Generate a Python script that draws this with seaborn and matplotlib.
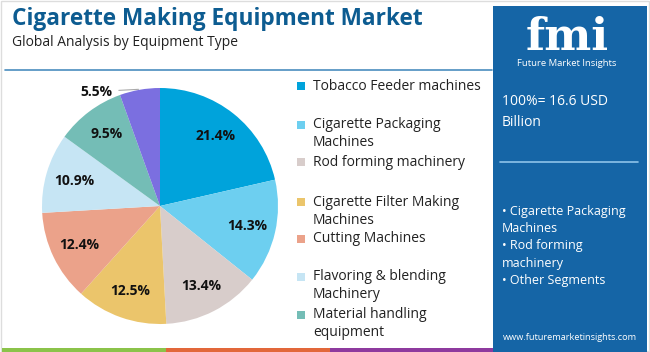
import matplotlib.pyplot as plt
import numpy as np
import seaborn as sns
from matplotlib.patches import Rectangle

# data
segments = ['Tobacco Feeder machines', 'Cigarette Packaging\nMachines', 'Rod forming machinery',
            'Cigarette Filter Making\nMachines', 'Cutting Machines', 'Flavoring & blending\nMachinery',
            'Material handling\nequipment', 'Others']
shares = [21.4, 14.3, 13.4, 12.5, 12.4, 10.9, 9.5, 5.5]
colors = ['#00A3DB', '#6DCFF0', '#D8CDCB', '#EBC56B', '#EBA28A', '#C6E5F4', '#74BDB6', '#7B6FE0']
bullets = ['• Cigarette Packaging', 'Machines', '• Rod forming', 'machinery', '• Other Segments']

sns.set_theme(style='white')
plt.rcParams['font.family'] = ['Open Sans', 'DejaVu Sans']
palette = sns.color_palette(colors)

W, H = 650, 352
fig = plt.figure(figsize=(6.5, 3.52), dpi=100, facecolor='white')

def fx(x):
    return x / W

def fy(y):
    return 1 - y / H

# frame and decorations
fig.patches.append(Rectangle((0.001, 0.002), 0.997, 0.995, transform=fig.transFigure,
                             fill=False, edgecolor='#DDDDDD', lw=1))
fig.text(fx(12), fy(19), 'Cigarette Making Equipment Market', fontsize=16.3, fontweight='bold',
         color='#0D5C91', va='center', ha='left')
fig.text(fx(12), fy(42), 'Global Analysis by Equipment Type', fontsize=10, color='#222222',
         va='center', ha='left')
fig.add_artist(plt.Line2D([fx(5), fx(492)], [fy(70), fy(70)], color='#4A8EBF', lw=1.2))

strip_cols = ['#8BC34A', '#E2673A', '#8E3A9E']
for i, c in enumerate(strip_cols):
    fig.patches.append(Rectangle((fx(2 + i * 164), 0), fx(164), 4 / H, transform=fig.transFigure,
                                 color=c, lw=0))

# right panel
fig.patches.append(Rectangle((fx(493), 0), fx(154), 346 / H, transform=fig.transFigure,
                             color='#1565A6', lw=0))
fig.text(fx(567), fy(50), 'fmi', fontsize=32, fontweight='bold', color='white',
         family='DejaVu Serif', ha='center', va='baseline')
fig.text(fx(567), fy(64), 'Future Market Insights', fontsize=6.8, color='white',
         ha='center', va='center')
fig.text(fx(502), fy(94), '100%= 16.6 USD\nBillion', fontsize=10, color='white',
         ha='left', va='top', linespacing=1.55)
fig.add_artist(plt.Line2D([fx(500), fx(638)], [fy(162), fy(162)], color='#8EC3EA', lw=1.2))
for i, b in enumerate(bullets):
    fig.text(fx(502), fy(211 + i * 17.4), b, fontsize=9, color='white', ha='left',
             va='center')
fig.text(fx(570), fy(337), 'www.futuremarketinsights.com', fontsize=6.6, color='white',
         ha='center', va='center')

# pie
cx, cy, r = 160, 206, 118
ax = fig.add_axes([fx(cx - r), fy(cy + r), 2 * r / W, 2 * r / H])
wedges, _ = ax.pie(shares, colors=palette, startangle=90, counterclock=False,
                   wedgeprops=dict(linewidth=0))
ax.set_xlim(-1, 1)
ax.set_ylim(-1, 1)
ax.set_aspect('equal')
ax.axis('off')

for i, (w, v) in enumerate(zip(wedges, shares)):
    mid = np.deg2rad((w.theta1 + w.theta2) / 2)
    if i == len(shares) - 1:
        ax.annotate(f'{v}%', xy=(0.92 * np.cos(mid), 0.99), xytext=(-0.40, 0.97),
                    fontsize=10, fontweight='bold', ha='right', va='center', color='#111111',
                    arrowprops=dict(arrowstyle='-', color='#AAAAAA', lw=0.8))
    else:
        d = 0.76
        ax.text(d * np.cos(mid), d * np.sin(mid), f'{v}%', fontsize=10, fontweight='bold',
                ha='center', va='center', color='#111111')

# legend (first seven segments), y = centre of first line
ly = [86, 125, 162, 202, 239, 277, 315]
for i in range(7):
    fig.patches.append(Rectangle((fx(297), fy(ly[i] + 4)), fx(8), 8 / H,
                                 transform=fig.transFigure, color=palette[i], lw=0))
    lines = segments[i].split('\n')
    for j, t in enumerate(lines):
        fig.text(fx(313), fy(ly[i] + 18 * j), t, fontsize=10, color='#222222', ha='left',
                 va='center')

fig.savefig('out.png', dpi=100, facecolor='white')
